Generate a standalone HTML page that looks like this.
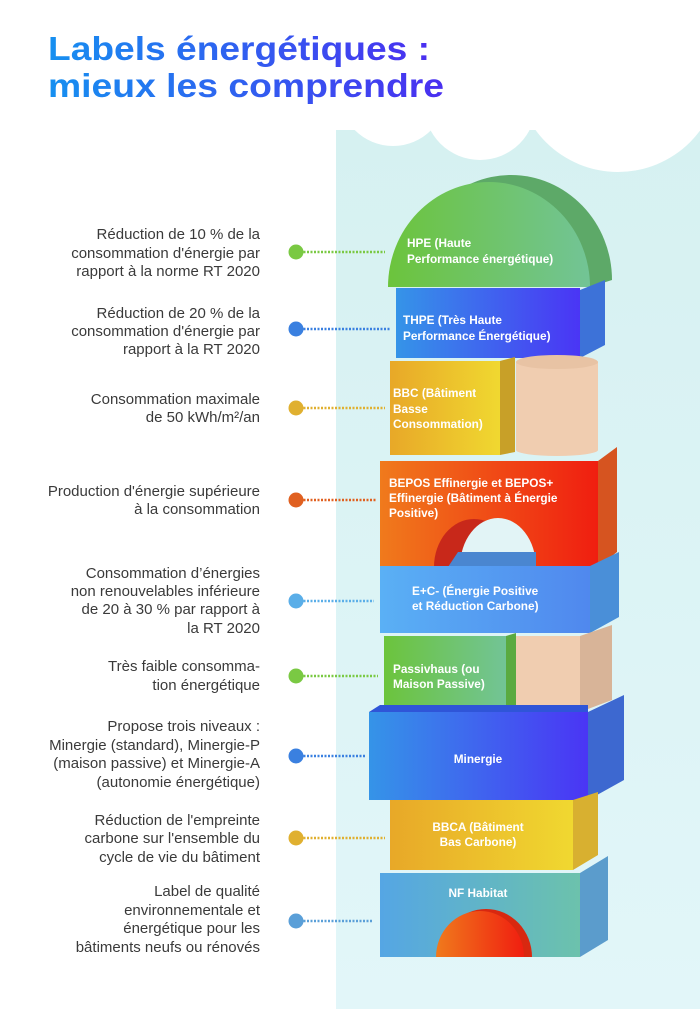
<!DOCTYPE html>
<html><head><meta charset="utf-8"><style>
html,body{margin:0;padding:0;background:#fff;}
svg{display:block;}
.l{font-family:"Liberation Sans",sans-serif;font-size:15px;fill:#3a3a3a;text-anchor:end;}
.b{font-family:"Liberation Sans",sans-serif;font-size:11.8px;font-weight:bold;fill:#fff;}
.c{text-anchor:middle;}
</style></head><body>
<svg width="700" height="1009" viewBox="0 0 700 1009" xmlns="http://www.w3.org/2000/svg">
<defs>
<linearGradient id="tg" x1="0" x2="1"><stop offset="0" stop-color="#1690f0"/><stop offset="1" stop-color="#4a2ff0"/></linearGradient>
<linearGradient id="pg" x1="0" x2="0" y1="0" y2="1"><stop offset="0" stop-color="#d6f1f1"/><stop offset="1" stop-color="#e2f6f9"/></linearGradient>
<linearGradient id="gr" x1="0" x2="1"><stop offset="0" stop-color="#6cc43c"/><stop offset="1" stop-color="#72c496"/></linearGradient>
<linearGradient id="bl" x1="0" x2="1"><stop offset="0" stop-color="#3594e8"/><stop offset="1" stop-color="#4a35f5"/></linearGradient>
<linearGradient id="ye" x1="0" x2="1"><stop offset="0" stop-color="#e8a828"/><stop offset="1" stop-color="#f0d830"/></linearGradient>
<linearGradient id="or" x1="0" x2="1"><stop offset="0" stop-color="#f07a1c"/><stop offset="1" stop-color="#f01e10"/></linearGradient>
<linearGradient id="lb" x1="0" x2="1"><stop offset="0" stop-color="#5ab0f5"/><stop offset="1" stop-color="#5088ee"/></linearGradient>
<linearGradient id="nf" x1="0" x2="1"><stop offset="0" stop-color="#55a6e4"/><stop offset="1" stop-color="#6cc2ac"/></linearGradient>
</defs>
<rect width="700" height="1009" fill="#fff"/>
<rect x="336" y="128" width="364" height="881" fill="url(#pg)"/>
<circle cx="393" cy="92" r="54" fill="#fff"/>
<circle cx="480" cy="104" r="56" fill="#fff"/>
<circle cx="618" cy="70" r="102" fill="#fff"/>
<rect x="336" y="100" width="364" height="30" fill="#fff"/>
<text x="48" y="60" font-family="Liberation Sans,sans-serif" font-weight="bold" font-size="33" fill="url(#tg)" textLength="382" lengthAdjust="spacingAndGlyphs">Labels énergétiques :</text>
<text x="48" y="97" font-family="Liberation Sans,sans-serif" font-weight="bold" font-size="33" fill="url(#tg)" textLength="396" lengthAdjust="spacingAndGlyphs">mieux les comprendre</text>

<!-- HPE dome -->
<path d="M410,280 A101,105 0 0 1 612,280 L590,287 Z" fill="#5da968"/>
<path d="M388,287 A101,105 0 0 1 590,287 Z" fill="url(#gr)"/>
<!-- THPE -->
<polygon points="396,290 580,290 605,280 605,345 580,358" fill="#3d72d8"/>
<rect x="396" y="288" width="184" height="70" fill="url(#bl)"/>
<!-- BBC -->
<polygon points="500,361 515,357 515,452 500,455" fill="#c8a028"/>
<rect x="390" y="361" width="110" height="94" fill="url(#ye)"/>
<rect x="516" y="362" width="82" height="88" fill="#f0cdb0"/>
<ellipse cx="557" cy="450" rx="41" ry="6" fill="#f0cdb0"/>
<ellipse cx="557" cy="362" rx="41" ry="7" fill="#e8c3a4"/>
<!-- BEPOS -->
<polygon points="598,461 617,447 617,552 598,567" fill="#d65420"/>
<rect x="380" y="461" width="218" height="106" fill="url(#or)"/>
<path d="M434,567 A40,48 0 0 1 514,567 Z" fill="#c8281a"/>
<path d="M460,567 A38,49 0 0 1 536,567 Z" fill="#e2f4f6"/>
<polygon points="448,567 458,552 536,552 536,567" fill="#4a86d0"/>
<!-- E+C- -->
<polygon points="590,566 619,552 619,617 590,633" fill="#4a8fd8"/>
<rect x="380" y="566" width="210" height="67" fill="url(#lb)"/>
<!-- Passivhaus -->
<polygon points="506,636 516,633 516,712 506,712" fill="#5aaa40"/>
<rect x="384" y="636" width="122" height="76" fill="url(#gr)"/>
<polygon points="580,636 612,625 612,700 580,712" fill="#d8b498"/>
<rect x="516" y="636" width="64" height="76" fill="#f0cdb0"/>
<!-- Minergie -->
<polygon points="588,712 624,695 624,780 588,800" fill="#3d68d0"/>
<polygon points="369,712 380,705 588,705 588,712" fill="#2f55d8"/>
<rect x="369" y="712" width="219" height="88" fill="url(#bl)"/>
<!-- BBCA -->
<polygon points="573,800 598,792 598,855 573,870" fill="#d8b030"/>
<rect x="390" y="800" width="183" height="70" fill="url(#ye)"/>
<!-- NF -->
<polygon points="580,873 608,856 608,940 580,957" fill="#5b9ccc"/>
<rect x="380" y="873" width="200" height="84" fill="url(#nf)"/>
<path d="M440,957 A46,48 0 0 1 532,957 Z" fill="#d82810"/>
<path d="M436,957 A44,46 0 0 1 524,957 Z" fill="url(#or)"/>

<!-- block labels -->
<text class="b" x="407" y="247">HPE (Haute</text>
<text class="b" x="407" y="263">Performance énergétique)</text>
<text class="b" x="403" y="324">THPE (Très Haute</text>
<text class="b" x="403" y="340">Performance Énergétique)</text>
<text class="b" x="393" y="397">BBC (Bâtiment</text>
<text class="b" x="393" y="413">Basse</text>
<text class="b" x="393" y="428">Consommation)</text>
<text class="b" x="389" y="487">BEPOS Effinergie et BEPOS+</text>
<text class="b" x="389" y="502">Effinergie (Bâtiment à Énergie</text>
<text class="b" x="389" y="517">Positive)</text>
<text class="b" x="412" y="595">E+C- (Énergie Positive</text>
<text class="b" x="412" y="610">et Réduction Carbone)</text>
<text class="b" x="393" y="673">Passivhaus (ou</text>
<text class="b" x="393" y="688">Maison Passive)</text>
<text class="b c" x="478" y="763">Minergie</text>
<text class="b c" x="478" y="831">BBCA (Bâtiment</text>
<text class="b c" x="478" y="846">Bas Carbone)</text>
<text class="b c" x="478" y="897">NF Habitat</text>

<!-- connectors -->
<g stroke-width="2.5" stroke-dasharray="2 1.5">
<line x1="300" y1="252" x2="385" y2="252" stroke="#7ac943"/>
<line x1="300" y1="329" x2="390" y2="329" stroke="#3a80e0"/>
<line x1="300" y1="408" x2="385" y2="408" stroke="#e0b030"/>
<line x1="300" y1="500" x2="376" y2="500" stroke="#e06020"/>
<line x1="300" y1="601" x2="374" y2="601" stroke="#5aaee8"/>
<line x1="300" y1="676" x2="378" y2="676" stroke="#7ac943"/>
<line x1="300" y1="756" x2="365" y2="756" stroke="#3a80e0"/>
<line x1="300" y1="838" x2="385" y2="838" stroke="#e0b030"/>
<line x1="300" y1="921" x2="372" y2="921" stroke="#5a9fd8"/>
</g>
<circle cx="296" cy="252" r="7.5" fill="#7ac943"/>
<circle cx="296" cy="329" r="7.5" fill="#3a80e0"/>
<circle cx="296" cy="408" r="7.5" fill="#e0b030"/>
<circle cx="296" cy="500" r="7.5" fill="#e06020"/>
<circle cx="296" cy="601" r="7.5" fill="#5aaee8"/>
<circle cx="296" cy="676" r="7.5" fill="#7ac943"/>
<circle cx="296" cy="756" r="7.5" fill="#3a80e0"/>
<circle cx="296" cy="838" r="7.5" fill="#e0b030"/>
<circle cx="296" cy="921" r="7.5" fill="#5a9fd8"/>

<!-- left labels -->
<text class="l" x="260" y="239">Réduction de 10 % de la</text>
<text class="l" x="260" y="258">consommation d'énergie par</text>
<text class="l" x="260" y="276">rapport à la norme RT 2020</text>
<text class="l" x="260" y="318">Réduction de 20 % de la</text>
<text class="l" x="260" y="336">consommation d'énergie par</text>
<text class="l" x="260" y="354">rapport à la RT 2020</text>
<text class="l" x="260" y="404">Consommation maximale</text>
<text class="l" x="260" y="422">de 50 kWh/m²/an</text>
<text class="l" x="260" y="496">Production d'énergie supérieure</text>
<text class="l" x="260" y="514">à la consommation</text>
<text class="l" x="260" y="578">Consommation d’énergies</text>
<text class="l" x="260" y="596">non renouvelables inférieure</text>
<text class="l" x="260" y="614">de 20 à 30 % par rapport à</text>
<text class="l" x="260" y="633">la RT 2020</text>
<text class="l" x="260" y="671">Très faible consomma-</text>
<text class="l" x="260" y="690">tion énergétique</text>
<text class="l" x="260" y="731">Propose trois niveaux :</text>
<text class="l" x="260" y="750">Minergie (standard), Minergie-P</text>
<text class="l" x="260" y="768">(maison passive) et Minergie-A</text>
<text class="l" x="260" y="787">(autonomie énergétique)</text>
<text class="l" x="260" y="825">Réduction de l'empreinte</text>
<text class="l" x="260" y="843">carbone sur l'ensemble du</text>
<text class="l" x="260" y="862">cycle de vie du bâtiment</text>
<text class="l" x="260" y="896">Label de qualité</text>
<text class="l" x="260" y="915">environnementale et</text>
<text class="l" x="260" y="933">énergétique pour les</text>
<text class="l" x="260" y="952">bâtiments neufs ou rénovés</text>
</svg>
</body></html>
